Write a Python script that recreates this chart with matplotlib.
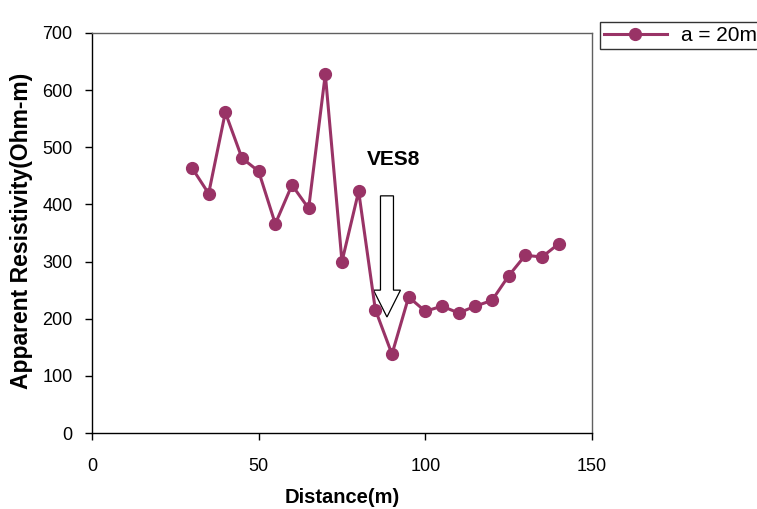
import matplotlib
matplotlib.use('Agg')
import matplotlib.pyplot as plt
from matplotlib.patches import FancyArrow

# survey data, a = 20m
distance = [30, 35, 40, 45, 50, 55, 60, 65, 70, 75, 80, 85, 90,
            95, 100, 105, 110, 115, 120, 125, 130, 135, 140]
resistivity = [464, 419, 561, 481, 458, 366, 434, 393, 628, 300, 423, 216, 138,
               238, 213, 222, 210, 222, 232, 275, 311, 308, 331]
series_label = 'a = 20m'
xticks = [0, 50, 100, 150]
yticks = [0, 100, 200, 300, 400, 500, 600, 700]

plt.rcParams['font.family'] = ['Liberation Sans', 'DejaVu Sans']

fig = plt.figure(figsize=(7.57, 5.09), dpi=100)
ax = fig.add_axes([0.1215, 0.1493, 0.6605, 0.7859])

line, = ax.plot(distance, resistivity, '-o', color='#993366', lw=2.2,
                markersize=8.5, label=series_label)

# VES8 marker arrow
ax.add_patch(FancyArrow(88.5, 415, 0, -212, width=3.9, head_width=8.1,
                        head_length=47, length_includes_head=True,
                        fc='white', ec='black', lw=0.9))
ax.text(90.5, 478, 'VES8', fontsize=15, fontweight='bold', ha='center', va='center')

ax.set_xlim(0, 150)
ax.set_ylim(0, 700)
ax.set_xticks(xticks)
ax.set_yticks(yticks)
ax.tick_params(direction='out', length=5, width=1, labelsize=13, colors='black')
ax.tick_params(axis='y', pad=9)
ax.tick_params(axis='x', pad=13)
for s in ['top', 'right']:
    ax.spines[s].set_color('#606060')
    ax.spines[s].set_linewidth(1)
for s in ['left', 'bottom']:
    ax.spines[s].set_linewidth(1)

ax.set_xlabel('Distance(m)', fontsize=14.5, fontweight='bold')
ax.set_ylabel('Apparent Resistivity(Ohm-m)', fontsize=16.5, fontweight='bold')
ax.xaxis.set_label_coords(0.5, -0.16)
ax.xaxis.label.set_va('center')
ax.yaxis.set_label_coords(-0.14, 0.505)
ax.yaxis.label.set_va('center')

leg = fig.legend(handles=[line], loc='upper left', bbox_to_anchor=(0.7926, 0.957),
                 borderaxespad=0, fontsize=15, frameon=True, fancybox=False,
                 borderpad=0.2, handlelength=3.0, handletextpad=0.7)
leg.get_frame().set_edgecolor('black')
leg.get_frame().set_linewidth(1)

fig.savefig('out.png', dpi=100)
